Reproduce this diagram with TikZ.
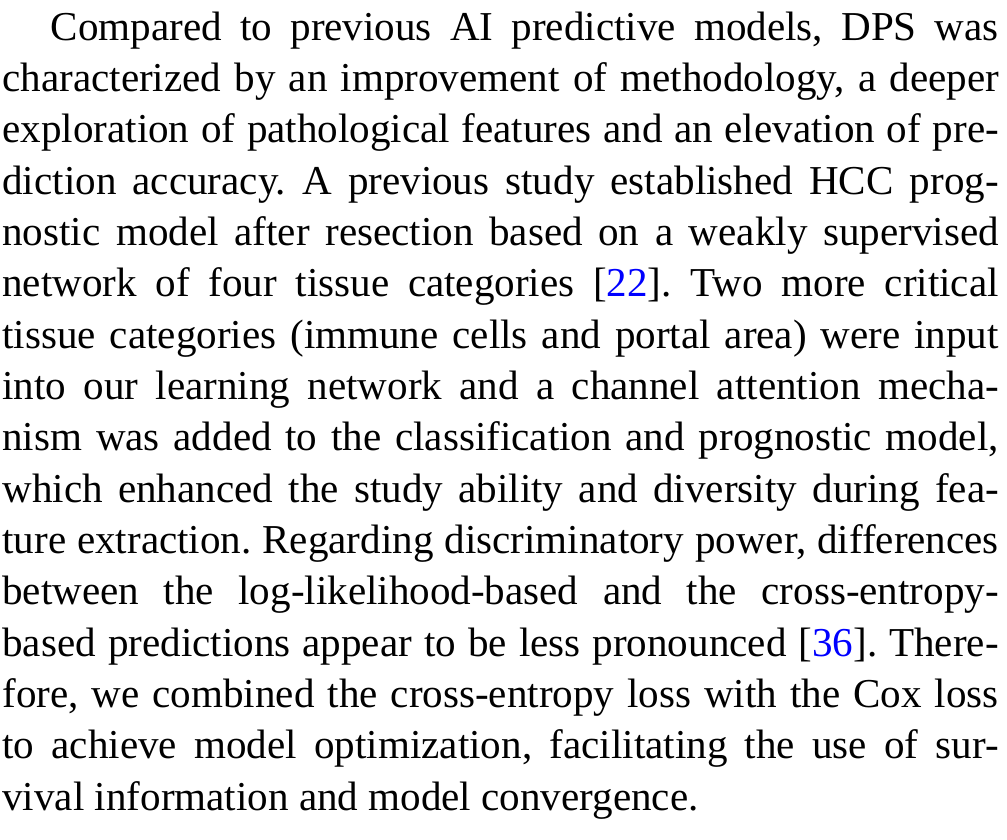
\documentclass[tikz,border=0pt]{standalone}
\usepackage{fontspec}
\setmainfont{Liberation Serif}
\newcommand{\citeref}[1]{[\textcolor{blue}{#1}]}
\begin{document}
\begin{tikzpicture}[paragraph/.style={anchor=base west,inner sep=0pt,text width=242.6pt,align=justify,font=\fontsize{10pt}{12.5pt}\selectfont\frenchspacing}]
\useasboundingbox (0,0) rectangle (245.2pt,-204.3pt);
\node[paragraph] (para) at (0.4pt,-9.75pt) {\hspace*{11.8pt}Compared to previous AI predictive models, DPS was
characterized by an improvement of methodology, a deeper
exploration of pathological features and an elevation of pre-\linebreak
diction accuracy. A previous study established HCC prog-\linebreak
nostic model after resection based on a weakly supervised
network of four tissue categories \citeref{22}. Two more critical
tissue categories (immune cells and portal area) were input
into our learning network and a channel attention mecha-\linebreak
nism was added to the classification and prognostic model,
which enhanced the study ability and diversity during fea-\linebreak
ture extraction. Regarding discriminatory power, differences
between the log-likelihood-based and the cross-entropy-\linebreak
based predictions appear to be less pronounced \citeref{36}. There-\linebreak
fore, we combined the cross-entropy loss with the Cox loss
to achieve model optimization, facilitating the use of sur-\linebreak
vival information and model convergence.};
\end{tikzpicture}
\end{document}
